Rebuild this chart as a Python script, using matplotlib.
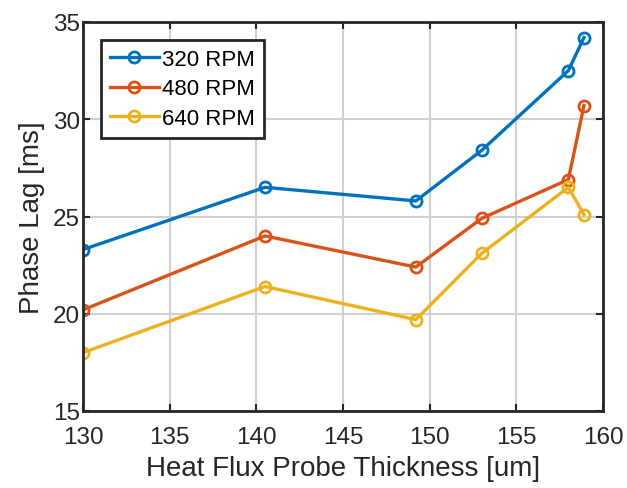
import matplotlib.pyplot as plt

plt.rcParams['font.family'] = ['Liberation Sans', 'DejaVu Sans']

# Espesor de la sonda y desfase medido para cada velocidad
espesor = [130.0, 140.5, 149.2, 153.0, 158.0, 158.9]
lag_320 = [23.3, 26.5, 25.8, 28.4, 32.5, 34.2]
lag_480 = [20.2, 24.0, 22.4, 24.9, 26.9, 30.7]
lag_640 = [18.0, 21.4, 19.7, 23.1, 26.5, 25.1]
etiquetas = ['320 RPM', '480 RPM', '640 RPM']
colores = ['#0072BD', '#D95319', '#EDB120']

fig = plt.figure(figsize=(6.27, 4.89), dpi=100)
ax = fig.add_axes([83 / 627, 1 - 412 / 489, 520 / 627, 389 / 489])

for serie, nombre, color in zip([lag_320, lag_480, lag_640], etiquetas, colores):
    ax.plot(espesor, serie, '-o', color=color, lw=2.4, ms=8,
            mfc='none', mew=2.0, label=nombre)

ax.set_xlim(130, 160)
ax.set_ylim(15, 35)
ax.set_xticks(range(130, 161, 5))
ax.set_yticks(range(15, 36, 5))
ax.grid(True, color='#d0d0d0', lw=1.5)
ax.set_axisbelow(True)
ax.tick_params(direction='in', top=True, right=True, length=5, width=1.5,
               labelsize=17.5, colors='#262626')
ax.tick_params(axis='x', pad=11)
ax.tick_params(axis='y', pad=2)
for s in ax.spines.values():
    s.set_linewidth(2.0)
    s.set_color('#262626')

ax.set_xlabel('Heat Flux Probe Thickness [um]', fontsize=20, color='#262626',
              labelpad=5)
ax.set_ylabel('Phase Lag [ms]', fontsize=20, color='#262626', labelpad=6)

leg = ax.legend(loc='upper left', bbox_to_anchor=(18 / 520, 1 - 18 / 389),
                fontsize=16, fancybox=False, framealpha=1, edgecolor='#262626',
                handlelength=2.2, borderpad=0.4, labelspacing=0.38,
                handletextpad=0.15, borderaxespad=0)
leg.get_frame().set_linewidth(2.0)

fig.savefig('out.png', dpi=100)
